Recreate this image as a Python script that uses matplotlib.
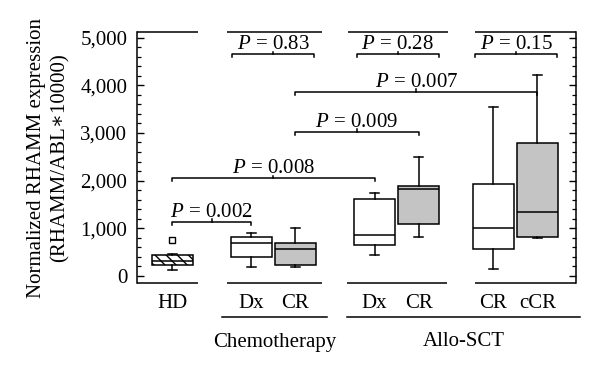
import matplotlib
matplotlib.use("Agg")
import matplotlib.pyplot as plt
from matplotlib.ticker import MultipleLocator, FuncFormatter
from matplotlib.transforms import blended_transform_factory

plt.rcParams['font.family'] = ['Liberation Serif', 'DejaVu Serif']
plt.rcParams['mathtext.fontset'] = 'custom'
plt.rcParams['mathtext.rm'] = 'Liberation Serif'
plt.rcParams['mathtext.it'] = 'Liberation Serif:italic'
plt.rcParams['hatch.linewidth'] = 1.0

# ---- data ----
box_labels = ["HD", "Dx", "CR", "Dx", "CR", "CR", "cCR"]
positions = [0.8, 2.6, 3.6, 5.4, 6.4, 8.1, 9.1]
whislo = [120, 183, 176, 435, 807, 147, 786]
q1 = [225, 386, 225, 645, 1086, 561, 807]
medians = [320, 700, 555, 849, 1821, 996, 1345]
q3 = [435, 820, 680, 1618, 1891, 1933, 2794]
whishi = [450, 903, 1008, 1744, 2500, 3538, 4210]
fliers = [[750], [], [], [], [], [], []]
box_colors = ["white", "white", "#c4c4c4", "white", "#c4c4c4", "white", "#c4c4c4"]
box_hatch = ["\\\\\\", None, None, None, None, None, None]

group_names = ["Chemotherapy", "Allo-SCT"]
group_spans = [(1.93, 4.32), (4.77, 10.07)]

# comparisons
comp_x1 = [0.8, 0.8, 3.6, 3.6, 2.17, 4.99, 7.68]
comp_x2 = [2.6, 5.4, 6.4, 9.1, 4.02, 6.86, 9.55]
comp_y = [1134, 2046, 3015, 3866, 4650, 4650, 4650]
comp_p = ["0.002", "0.008", "0.009", "0.007", "0.83", "0.28", "0.15"]

top_segments = [(0, 1.39), (2.05, 4.2), (4.8, 7.07), (7.68, 9.98)]
bottom_segments = [(0, 1.39), (2.05, 4.2), (4.77, 7.05), (7.68, 9.98)]

yticks = [0, 1000, 2000, 3000, 4000, 5000]

FS = 15

fig = plt.figure(figsize=(6, 3.72), dpi=100)
ax = fig.add_axes([137/600, 1-283/372, (576-137)/600, (283-32)/372])
ax.set_xlim(0, 9.98)
ax.set_ylim(-150, 5120)

stats = []
for i in range(len(positions)):
    stats.append(dict(med=medians[i], q1=q1[i], q3=q3[i], whislo=whislo[i],
                      whishi=whishi[i], fliers=fliers[i], label=box_labels[i]))

bp = ax.bxp(stats, positions=positions, widths=0.93, patch_artist=True,
            showfliers=True, manage_ticks=False,
            boxprops=dict(linewidth=1.1, edgecolor='black'),
            medianprops=dict(color='black', linewidth=1.1),
            whiskerprops=dict(color='black', linewidth=1.1),
            capprops=dict(color='black', linewidth=1.1),
            capwidths=0.2,
            flierprops=dict(marker='s', markersize=4.5, markerfacecolor='white',
                            markeredgecolor='black', markeredgewidth=1.0))
for patch, c, h in zip(bp['boxes'], box_colors, box_hatch):
    patch.set_facecolor(c)
    if h:
        patch.set_hatch(h)

# spines
for s in ['top', 'bottom']:
    ax.spines[s].set_visible(False)
for s in ['left', 'right']:
    ax.spines[s].set_linewidth(1.1)
ylo, yhi = ax.get_ylim()
for a, b in top_segments:
    ax.plot([a, b], [yhi, yhi], color='black', lw=1.1, clip_on=False, solid_capstyle='butt')
for a, b in bottom_segments:
    ax.plot([a, b], [ylo, ylo], color='black', lw=1.1, clip_on=False, solid_capstyle='butt')

ax.set_xticks([])
ax.set_yticks(yticks)
ax.yaxis.set_major_formatter(FuncFormatter(lambda v, p: f"{int(v):,}"))
ax.yaxis.set_minor_locator(MultipleLocator(200))
ax.tick_params(axis='y', which='both', direction='in', left=True, right=True,
               labelsize=FS, pad=7)
ax.tick_params(axis='y', which='major', length=5, width=1.0)
ax.tick_params(axis='y', which='minor', length=3, width=0.9)

ax.set_ylabel("Normalized RHAMM expression\n(RHAMM/ABL\u221710000)", fontsize=FS,
              linespacing=1.3, labelpad=8)

# comparison brackets
tk = 60
for x1, x2, y, p in zip(comp_x1, comp_x2, comp_y, comp_p):
    xm = (x1 + x2) / 2
    ax.plot([x1, x1, x2, x2], [y - tk, y, y, y - tk], color='black', lw=1.1,
            clip_on=False)
    ax.plot([xm, xm], [y, y + tk], color='black', lw=1.1, clip_on=False)
    ax.text(xm, y + 105, f"$P$ = {p}", ha='center', va='baseline', fontsize=FS)

# category labels below axis
tr = blended_transform_factory(ax.transData, fig.transFigure)
for x, lab in zip(positions, box_labels):
    fig.text(x, 1 - 303/372, lab, transform=tr, ha='center', va='center', fontsize=FS)
for (a, b), name in zip(group_spans, group_names):
    fig.add_artist(plt.Line2D([a, b], [1 - 317/372, 1 - 317/372], transform=tr,
                              color='black', lw=1.1))
    fig.text((a + b) / 2, 1 - 342/372, name, transform=tr, ha='center', va='center',
             fontsize=FS)

fig.savefig("out.png", dpi=100)
